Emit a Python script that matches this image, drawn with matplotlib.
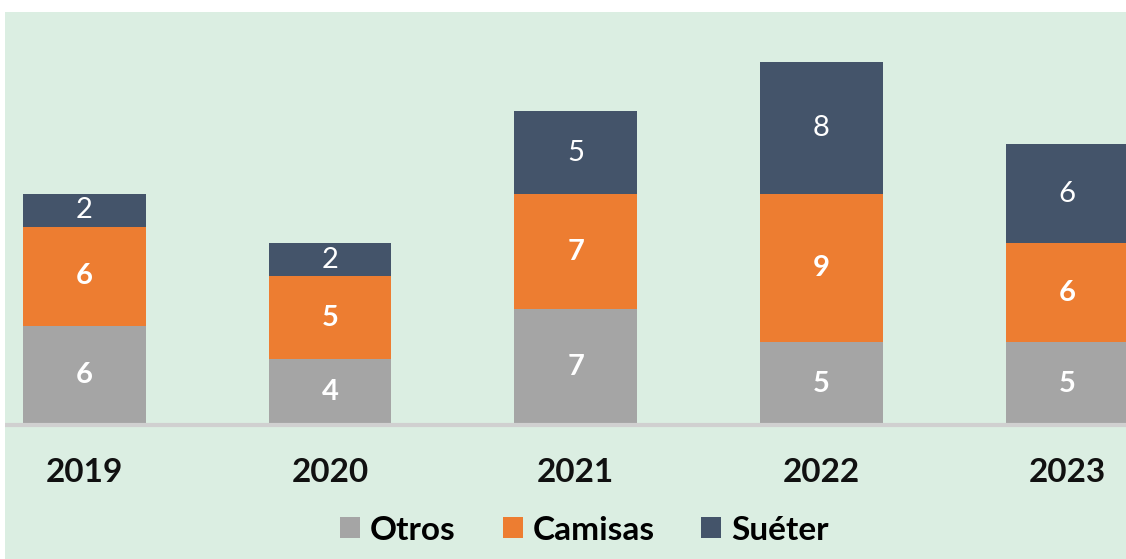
import matplotlib.pyplot as plt
from matplotlib.patches import Rectangle

years = ["2019", "2020", "2021", "2022", "2023"]
otros = [6, 4, 7, 5, 5]
camisas = [6, 5, 7, 9, 6]
sueter = [2, 2, 5, 8, 6]

plt.rcParams['font.family'] = ['Lato', 'DejaVu Sans']

bg = "#DBEEE2"
c_otros = "#A5A5A5"
c_camisas = "#ED7D31"
c_sueter = "#44546A"

W, H = 1126, 559
fig = plt.figure(figsize=(W / 100, H / 100), dpi=100, facecolor=bg)

# white band top and left (cropped page)
fig.patches.append(Rectangle((0, 1 - 12 / H), 1, 12 / H, transform=fig.transFigure,
                             facecolor="white", edgecolor="none", zorder=0))
fig.patches.append(Rectangle((0, 0), 5 / W, 1, transform=fig.transFigure,
                             facecolor="white", edgecolor="none", zorder=0))

ax_left, ax_right = 5, 1126
ax_top, ax_bottom = 12, 425
ax = fig.add_axes([ax_left / W, 1 - ax_bottom / H, (ax_right - ax_left) / W,
                   (ax_bottom - ax_top) / H])
ax.set_facecolor(bg)

x = list(range(len(years)))
bottom2 = [o + c for o, c in zip(otros, camisas)]
b1 = ax.bar(x, otros, width=0.5, color=c_otros, label="Otros")
b2 = ax.bar(x, camisas, width=0.5, bottom=otros, color=c_camisas, label="Camisas")
b3 = ax.bar(x, sueter, width=0.5, bottom=bottom2, color=c_sueter, label="Suéter")

for bars, vals, bold in [(b1, otros, True), (b2, camisas, True), (b3, sueter, False)]:
    for r, v in zip(bars, vals):
        ax.text(r.get_x() + r.get_width() / 2, r.get_y() + r.get_height() / 2, str(v),
                ha="center", va="center", color="white", fontsize=21,
                fontweight="bold" if bold else "normal")

ax.set_xlim(-0.323, 4.24)
ax.set_ylim(0, 25.03)
ax.set_yticks([])
ax.set_xticks(x)
ax.set_xticklabels(years, fontsize=24, fontweight="bold", color="#111111")
ax.tick_params(axis="x", length=0, pad=24)
for s in ["top", "right", "left"]:
    ax.spines[s].set_visible(False)
ax.spines["bottom"].set_color("#D0D0D0")
ax.spines["bottom"].set_linewidth(3)

ax.legend(loc="center", bbox_to_anchor=(0.517, (ax_bottom - 530) / (ax_bottom - ax_top)),
          ncol=3, frameon=False, handlelength=0.6, handleheight=0.6,
          handletextpad=0.3, columnspacing=1.4, prop={"weight": "bold", "size": 24})

fig.savefig("out.png", dpi=100, facecolor=bg)
